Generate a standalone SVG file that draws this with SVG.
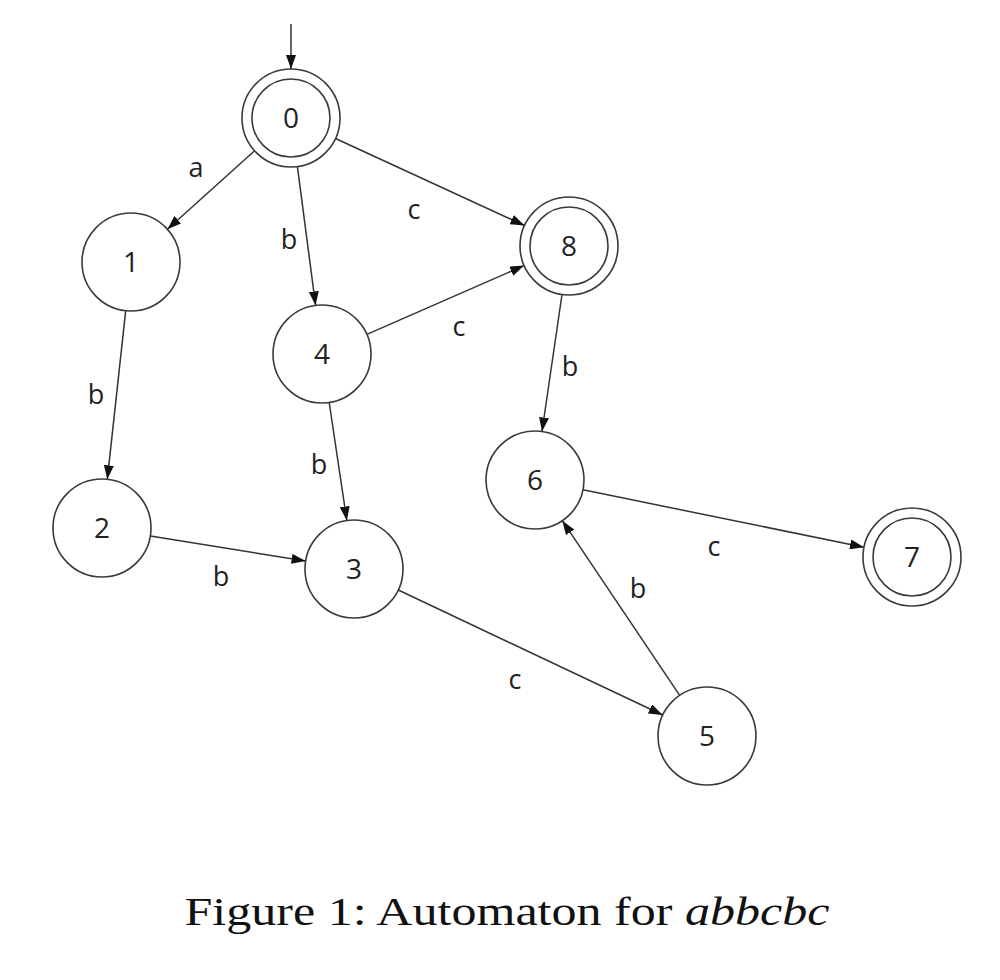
<svg xmlns="http://www.w3.org/2000/svg" width="1000" height="980" viewBox="0 0 1000 980">
<defs>
<marker id="arr" markerWidth="14" markerHeight="10" refX="14" refY="5" orient="auto" markerUnits="userSpaceOnUse">
<path d="M0,0 L14,5 L0,10 Z" fill="#111"/>
</marker>
<style>
.st{fill:#fff;stroke:#3a3a3a;stroke-width:1.6}
.nl{font-family:"Open Sans","Noto Sans",sans-serif;font-size:28px;fill:#222;text-anchor:middle}
.el{font-family:"Open Sans","Noto Sans",sans-serif;font-size:27px;fill:#222;text-anchor:middle}
.ed{stroke:#333;stroke-width:1.5;fill:none;marker-end:url(#arr)}
.cap{font-family:"Liberation Serif","DejaVu Serif",serif;font-size:40px;fill:#111;text-anchor:middle}
</style>
</defs>
<rect width="1000" height="980" fill="#fff"/>
<g id="edges">
<line class="ed" x1="291" y1="24" x2="291" y2="69"/>
<line class="ed" x1="254.6" y1="150.8" x2="167.4" y2="229.2"/>
<line class="ed" x1="297.4" y1="166.6" x2="315.6" y2="305.4"/>
<line class="ed" x1="335.5" y1="138.5" x2="524.5" y2="225.5"/>
<line class="ed" x1="366.9" y1="334.4" x2="524.1" y2="265.6"/>
<line class="ed" x1="125.7" y1="310.7" x2="107.3" y2="479.3"/>
<line class="ed" x1="329.2" y1="402.5" x2="346.8" y2="520.5"/>
<line class="ed" x1="562" y1="294.5" x2="542" y2="431.5"/>
<line class="ed" x1="150.4" y1="535.9" x2="305.6" y2="561.1"/>
<line class="ed" x1="583" y1="489.8" x2="864" y2="547.2"/>
<line class="ed" x1="398.3" y1="590" x2="662.7" y2="715"/>
<line class="ed" x1="679.7" y1="695.3" x2="562.3" y2="520.7"/>
<text class="el" x="196" y="177">a</text>
<text class="el" x="289" y="249">b</text>
<text class="el" x="414" y="219">c</text>
<text class="el" x="459" y="336">c</text>
<text class="el" x="96" y="404">b</text>
<text class="el" x="319" y="474">b</text>
<text class="el" x="570" y="376">b</text>
<text class="el" x="221" y="586">b</text>
<text class="el" x="714" y="556">c</text>
<text class="el" x="515" y="689">c</text>
<text class="el" x="638" y="598">b</text>
</g>
<g id="n0"><circle class="st" cx="291" cy="118" r="49"/><circle class="st" cx="291" cy="118" r="39"/><text class="nl" x="291" y="128">0</text></g>
<g id="n1"><circle class="st" cx="131" cy="262" r="49"/><text class="nl" x="131" y="272">1</text></g>
<g id="n4"><circle class="st" cx="322" cy="354" r="49"/><text class="nl" x="322" y="364">4</text></g>
<g id="n8"><circle class="st" cx="569" cy="246" r="49"/><circle class="st" cx="569" cy="246" r="39"/><text class="nl" x="569" y="256">8</text></g>
<g id="n2"><circle class="st" cx="102" cy="528" r="49"/><text class="nl" x="102" y="538">2</text></g>
<g id="n3"><circle class="st" cx="354" cy="569" r="49"/><text class="nl" x="354" y="579">3</text></g>
<g id="n6"><circle class="st" cx="535" cy="480" r="49"/><text class="nl" x="535" y="490">6</text></g>
<g id="n7"><circle class="st" cx="912" cy="557" r="49"/><circle class="st" cx="912" cy="557" r="39"/><text class="nl" x="912" y="567">7</text></g>
<g id="n5"><circle class="st" cx="707" cy="736" r="49"/><text class="nl" x="707" y="746">5</text></g>
<text class="cap" x="507" y="925" textLength="645" lengthAdjust="spacingAndGlyphs">Figure 1: Automaton for <tspan font-style="italic">abbcbc</tspan></text>
</svg>
